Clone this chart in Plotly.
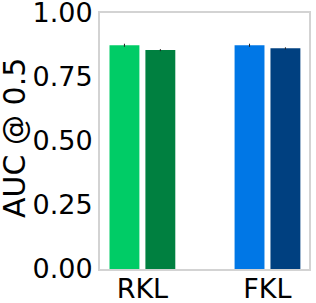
import plotly.graph_objects as go

categories = ["RKL", "FKL"]
series_a = [0.874, 0.874]
series_b = [0.855, 0.862]
err_a = [0.006, 0.006]
err_b = [0.004, 0.004]
colors_a = ["#00cc66", "#0077e6"]
colors_b = ["#008040", "#004080"]
y_ticks = [0.0, 0.25, 0.5, 0.75, 1.0]
y_ticktext = ["0.00", "0.25", "0.50", "0.75", "1.00"]

fig = go.Figure()
fig.add_trace(go.Bar(x=categories, y=series_a, marker=dict(color=colors_a, line=dict(width=0)),
                     error_y=dict(type="data", array=err_a, color="#222222", thickness=1, width=0)))
fig.add_trace(go.Bar(x=categories, y=series_b, marker=dict(color=colors_b, line=dict(width=0)),
                     error_y=dict(type="data", array=err_b, color="#222222", thickness=1, width=0)))

font = dict(family="DejaVu Sans", size=27, color="black")
title_font = dict(family="DejaVu Sans", size=30, color="black")
fig.update_layout(
    width=316, height=303,
    margin=dict(l=100, r=7, t=13, b=34, autoexpand=False),
    barmode="group", bargap=0.426, bargroupgap=0.167,
    showlegend=False,
    plot_bgcolor="white", paper_bgcolor="white",
    font=font,
    xaxis=dict(range=[-0.339, 1.332], showline=True, mirror=True, linecolor="#d3d3d3", linewidth=2,
               ticks="", showgrid=False, tickfont=font, automargin=False, ticklabelstandoff=-5,
               ticklabeloverflow="allow"),
    yaxis=dict(range=[0, 1], tickvals=y_ticks, ticktext=y_ticktext, showline=True, mirror=True,
               linecolor="#d3d3d3", linewidth=2, ticks="", showgrid=False, zeroline=False,
               tickfont=font, automargin=False, ticklabeloverflow="allow", ticklabelstandoff=0),
    annotations=[dict(text="AUC @ 0.5", xref="paper", yref="paper", x=(15 - 100) / 209, y=0.512,
                      textangle=-90, showarrow=False, font=title_font, xanchor="center", yanchor="middle")],
)
fig.write_html("out.html", config={"displayModeBar": False},
               post_script="document.body.style.margin='0';document.body.style.overflow='hidden';")
